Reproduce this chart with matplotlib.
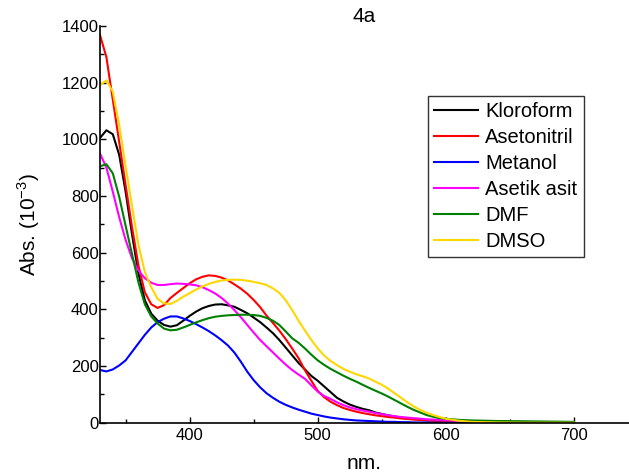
import matplotlib
matplotlib.use("Agg")
import matplotlib.pyplot as plt
from matplotlib.ticker import MultipleLocator

plt.rcParams['font.family'] = ['Liberation Sans', 'DejaVu Sans']

# Wavelength grid (nm)
wavelength = list(range(330, 605, 5)) + [610, 620, 640, 660, 680, 700]

# Absorbance (x10^-3) per solvent
kloroform = [1005, 1032, 1018, 945, 815, 665, 527, 432, 385, 360, 345, 339, 344, 360,
             377, 392, 404, 412, 417, 418, 414, 409, 398, 386, 371, 355, 336, 316,
             292, 265, 238, 211, 188, 165, 148, 128, 108, 88, 75, 64, 56, 49,
             44, 36, 31, 26, 22, 18, 15, 13, 11, 9, 8, 7, 6,
             5, 4, 3, 2, 1, 0]
asetonitril = [1368, 1290, 1140, 990, 838, 690, 555, 460, 418, 405, 415, 440, 458, 475,
               492, 506, 515, 520, 518, 512, 502, 488, 473, 455, 433, 408, 378, 352,
               325, 295, 262, 228, 185, 148, 112, 90, 74, 62, 52, 45, 39, 34,
               30, 26, 23, 20, 18, 15, 13, 11, 10, 8, 7, 6, 5,
               4, 3, 2, 1, 1, 0]
metanol = [186, 181, 188, 202, 220, 250, 280, 310, 336, 355, 367, 375, 375, 368,
           359, 348, 336, 323, 308, 291, 272, 247, 215, 180, 150, 125, 104, 88,
           74, 63, 54, 46, 39, 32, 27, 22, 18, 15, 12, 10, 8, 7,
           6, 5, 4, 3, 3, 2, 2, 1, 1, 1, 0, 0, 0,
           0, 0, 0, 0, 0, 0]
asetik_asit = [950, 900, 815, 725, 645, 580, 537, 510, 494, 486, 486, 489, 491, 490,
               488, 485, 478, 468, 456, 440, 420, 397, 372, 345, 318, 292, 270, 248,
               226, 205, 186, 170, 155, 132, 110, 94, 84, 72, 62, 54, 48, 43,
               39, 34, 30, 26, 23, 20, 18, 16, 14, 12, 11, 10, 9,
               7, 6, 4, 3, 1, 0]
dmf = [905, 912, 880, 797, 695, 595, 495, 418, 375, 350, 332, 326, 328, 336,
       345, 354, 362, 369, 374, 377, 379, 380, 381, 381, 380, 377, 370, 360,
       345, 322, 298, 282, 262, 240, 220, 204, 190, 178, 166, 155, 145, 134,
       123, 113, 103, 92, 80, 68, 56, 45, 36, 27, 21, 16, 14,
       10, 8, 6, 5, 4, 3]
dmso = [1191, 1208, 1168, 1050, 905, 765, 628, 532, 478, 437, 421, 419, 430, 445,
        457, 470, 481, 490, 497, 502, 504, 505, 504, 501, 497, 492, 486, 474,
        458, 432, 398, 360, 325, 292, 262, 237, 218, 203, 190, 180, 171, 164,
        156, 145, 134, 120, 104, 88, 72, 57, 45, 35, 27, 20, 14,
        7, 3, 1, 0, 0, 0]

series = [
    ("Kloroform", kloroform, "#000000"),
    ("Asetonitril", asetonitril, "#ff0000"),
    ("Metanol", metanol, "#0000ff"),
    ("Asetik asit", asetik_asit, "#ff00ff"),
    ("DMF", dmf, "#008000"),
    ("DMSO", dmso, "#ffd700"),
]

fig = plt.figure(figsize=(6.29, 4.73), dpi=100)
ax = fig.add_axes([100 / 629, 1 - 422.7 / 473, 529 / 629, 396.7 / 473])

for name, values, color in series:
    ax.plot(wavelength, values, color=color, lw=1.5, label=name,
            solid_joinstyle="round")

ax.set_xlim(330, 743)
ax.set_ylim(0, 1400)
ax.set_xticks([400, 500, 600, 700])
ax.xaxis.set_minor_locator(MultipleLocator(50))
ax.yaxis.set_major_locator(MultipleLocator(200))
ax.yaxis.set_minor_locator(MultipleLocator(100))

for side in ("top", "right"):
    ax.spines[side].set_visible(False)
for side in ("left", "bottom"):
    ax.spines[side].set_linewidth(1.2)

ax.tick_params(axis="both", which="both", direction="in", labelsize=12)
ax.tick_params(axis="both", which="major", length=4, width=1)
ax.tick_params(axis="both", which="minor", length=3, width=1)
ax.tick_params(axis="y", pad=1)
ax.tick_params(axis="x", pad=4)

ax.set_title("4a", fontsize=15, pad=3)
ax.set_xlabel("nm.", fontsize=15, labelpad=8)
ax.set_ylabel("Abs. (10$^{\\mathregular{-3}}$)", fontsize=15, labelpad=14)

leg = ax.legend(loc="upper left", bbox_to_anchor=(0.62, 0.8236), borderaxespad=0,
                fontsize=14.5, frameon=True, fancybox=False, handlelength=2.2,
                handletextpad=0.35, labelspacing=0.35, borderpad=0.3)
leg.get_frame().set_edgecolor("black")
leg.get_frame().set_linewidth(1.0)

fig.savefig("out.png", dpi=100)
